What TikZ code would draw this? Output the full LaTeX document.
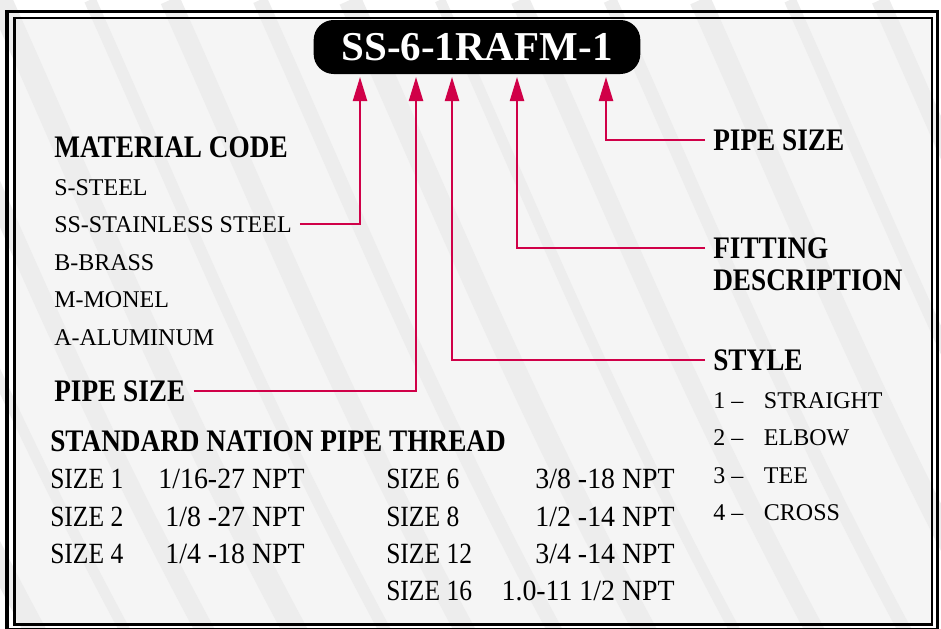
\documentclass[tikz,border=0pt]{standalone}
\usepackage{fontspec}
\setmainfont{Liberation Serif}
\newfontfamily\condfont[FakeStretch=0.87]{Liberation Serif}
\newfontfamily\valfont[FakeStretch=0.95]{Liberation Serif}
\usetikzlibrary{arrows.meta,backgrounds}

\definecolor{codered}{RGB}{208,0,72}
\definecolor{panel}{RGB}{245,245,245}
\definecolor{streak}{RGB}{237,237,237}

\begin{document}
\begin{tikzpicture}[x=0.75pt,y=-0.75pt,
  every node/.style={inner sep=0pt},
  heading/.style={anchor=base west,font=\condfont\bfseries\fontsize{23.5}{25}\selectfont},
  item/.style={anchor=base west,font=\fontsize{18}{20}\selectfont},
  cell/.style={anchor=base west,font=\condfont\fontsize{22}{24}\selectfont},
  value/.style={anchor=base east,font=\valfont\fontsize{22}{24}\selectfont},
  pointer/.style={draw=codered,line width=1.7pt,shorten <=6pt,
    -{Triangle[length=18pt,width=10.5pt]}},
  pill/.style={fill=black,text=white,rounded corners=15pt,
    minimum width=245pt,minimum height=40.5pt,
    font=\bfseries\fontsize{30.75}{32}\selectfont}]

  \useasboundingbox (0,0) rectangle (941,628);

  % frame
  \draw[line width=2.6pt] (7,11.5) rectangle (937.5,630);
  \draw[line width=1.9pt] (14.5,18) rectangle (932,624.5);

  % part number
  \node [pill] (code) at (477,47) {SS-6-1RAFM-1};
  \coordinate (tMat)   at (360,77);
  \coordinate (tSize)  at (416,77);
  \coordinate (tStyle) at (452,77);
  \coordinate (tFit)   at (517,77);
  \coordinate (tPipe)  at (606,77);

  % material code
  \node [heading] (mat) at (54,157) {MATERIAL CODE};
  \node [item] (steel) at (54,195) {S-STEEL};
  \node [item] (ssteel) at (54,232) {SS-STAINLESS STEEL};
  \node [item] (brass) at (54,270) {B-BRASS};
  \node [item] (monel) at (54,307) {M-MONEL};
  \node [item] (alu) at (54,345) {A-ALUMINUM};
  \node [heading] (sizeL) at (54,401) {PIPE SIZE};

  % thread table
  \node [heading] (npt) at (50,451) {STANDARD NATION PIPE THREAD};
  \node [cell] (s1) at (50,488) {SIZE 1};
  \node [cell] (s2) at (50,526) {SIZE 2};
  \node [cell] (s4) at (50,563) {SIZE 4};
  \node [value] (v1) at (305,488) {1/16-27 NPT};
  \node [value] (v2) at (305,526) {1/8 -27 NPT};
  \node [value] (v4) at (305,563) {1/4 -18 NPT};
  \node [cell] (s6) at (386,488) {SIZE 6};
  \node [cell] (s8) at (386,526) {SIZE 8};
  \node [cell] (s12) at (386,563) {SIZE 12};
  \node [cell] (s16) at (386,600) {SIZE 16};
  \node [value] (v6) at (675,488) {3/8 -18 NPT};
  \node [value] (v8) at (675,526) {1/2 -14 NPT};
  \node [value] (v12) at (675,563) {3/4 -14 NPT};
  \node [value] (v16) at (675,600) {1.0-11 1/2 NPT};

  % right side
  \node [heading] (sizeR) at (713,150) {PIPE SIZE};
  \node [heading] (fit) at (713,258) {FITTING};
  \node [heading] (desc) at (713,290) {DESCRIPTION};
  \node [heading] (style) at (713,370) {STYLE};
  \node [item] (st1) at (713,408) {\makebox[38pt][l]{1 --}STRAIGHT};
  \node [item] (st2) at (713,445) {\makebox[38pt][l]{2 --}ELBOW};
  \node [item] (st3) at (713,483) {\makebox[38pt][l]{3 --}TEE};
  \node [item] (st4) at (713,520) {\makebox[38pt][l]{4 --}CROSS};

  % pointers
  \draw [pointer] (ssteel.east) -| (tMat);
  \draw [pointer] (sizeL.east) -| (tSize);
  \draw [pointer] (style.west) -| (tStyle);
  \draw [pointer] (fit.west) -| (tFit);
  \draw [pointer] (sizeR.west) -| (tPipe);

  \begin{pgfonlayer}{background}
    \fill [white] (0,0) rectangle (941,628);
    \fill [panel] (14.5,18) rectangle (932,624.5);
    \begin{scope}
      \clip (0,0) rectangle (941,628);
      \foreach \s/\w in {-350/10,-260/16,-170/8,-90/14,0/18,90/9,170/15,
                         260/11,350/17,440/8,520/14,610/10,700/16,790/9,880/13}
        \draw [streak,line width=\w pt]
          (\s,0) .. controls (\s+90,200) and (\s+170,400) .. (\s+300,640);
    \end{scope}
  \end{pgfonlayer}
\end{tikzpicture}
\end{document}
